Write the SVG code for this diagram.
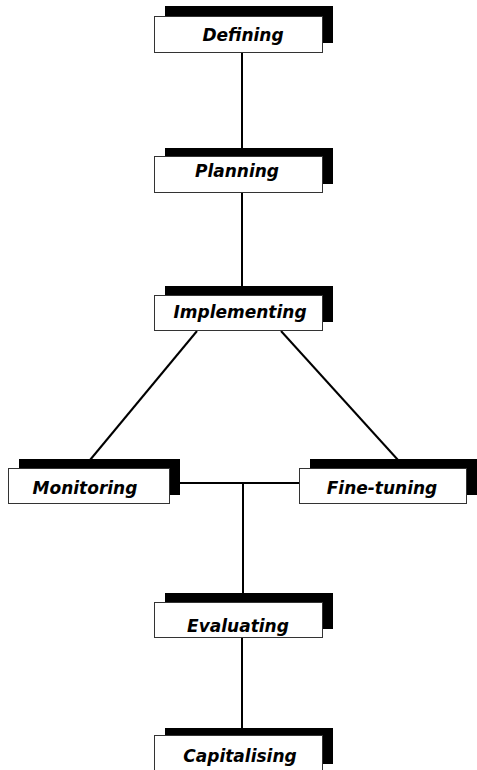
<svg xmlns="http://www.w3.org/2000/svg" width="477" height="770" viewBox="0 0 477 770">
<style>
.sh{fill:#000}
.bx{fill:#fff;stroke:#333;stroke-width:1}
.t{font-family:"DejaVu Sans",sans-serif;font-weight:bold;font-style:italic;font-size:17px;fill:#000;text-anchor:middle}
.c{stroke:#000;stroke-width:2;fill:none}
</style>
<rect width="477" height="770" fill="#fff"/>
<g id="connectors">
<line class="c" x1="242" y1="50" x2="242" y2="150"/>
<line class="c" x1="242" y1="190" x2="242" y2="290"/>
<line class="c" x1="197" y1="331" x2="90" y2="460"/>
<line class="c" x1="281" y1="331" x2="398" y2="460"/>
<line class="c" x1="178" y1="483" x2="300" y2="483"/>
<line class="c" x1="243" y1="483" x2="243" y2="603"/>
<line class="c" x1="242" y1="636" x2="242" y2="730"/>
</g>
<g id="defining">
<rect class="sh" x="165" y="6" width="168" height="37"/>
<rect class="bx" x="154.5" y="16.5" width="168" height="36"/>
<text class="t" x="243" y="41">Defining</text>
</g>
<g id="planning">
<rect class="sh" x="165" y="148" width="168" height="36"/>
<rect class="bx" x="154.5" y="156.5" width="168" height="36"/>
<text class="t" x="237" y="177">Planning</text>
</g>
<g id="implementing">
<rect class="sh" x="165" y="286" width="168" height="36"/>
<rect class="bx" x="154.5" y="295.5" width="168" height="35"/>
<text class="t" x="240" y="318">Implementing</text>
</g>
<g id="monitoring">
<rect class="sh" x="19" y="459" width="161" height="36"/>
<rect class="bx" x="8.5" y="468.5" width="161" height="35"/>
<text class="t" x="85" y="494">Monitoring</text>
</g>
<g id="fine-tuning">
<rect class="sh" x="310" y="459" width="167" height="36"/>
<rect class="bx" x="299.5" y="468.5" width="167" height="35"/>
<text class="t" x="382" y="494">Fine-tuning</text>
</g>
<g id="evaluating">
<rect class="sh" x="165" y="593" width="168" height="36"/>
<rect class="bx" x="154.5" y="602.5" width="168" height="35"/>
<text class="t" x="238" y="632">Evaluating</text>
</g>
<g id="capitalising">
<rect class="sh" x="165" y="728" width="168" height="36"/>
<rect class="bx" x="154.5" y="735.5" width="168" height="36"/>
<text class="t" x="240" y="762">Capitalising</text>
</g>
</svg>
